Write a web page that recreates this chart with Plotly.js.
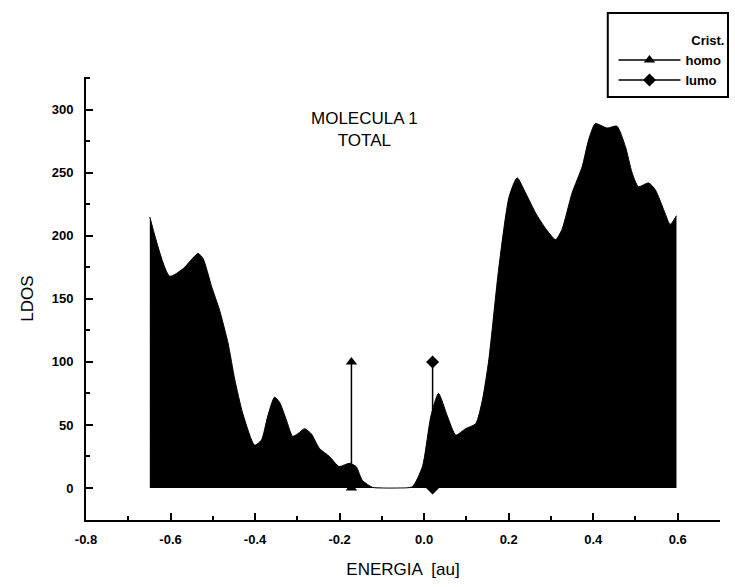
<!DOCTYPE html>
<html>
<head>
<meta charset="utf-8">
<script src="https://cdn.plot.ly/plotly-3.0.1.min.js"></script>
<style>html,body{margin:0;padding:0;background:#fff;}#chart{width:735px;height:587px;}</style>
</head>
<body>
<div id="chart"></div>
<script>
// Total LDOS curve (energy in au, LDOS)
const energia = [-0.649,-0.602,-0.570,-0.535,-0.523,-0.503,-0.484,-0.464,-0.448,-0.429,-0.401,-0.385,-0.370,-0.354,-0.342,-0.326,-0.311,-0.299,-0.283,-0.267,-0.248,-0.224,-0.201,-0.177,-0.161,-0.146,-0.122,-0.10,-0.06,-0.028,-0.004,0.016,0.034,0.055,0.075,0.098,0.122,0.138,0.153,0.177,0.201,0.220,0.240,0.264,0.287,0.311,0.326,0.350,0.374,0.389,0.405,0.433,0.456,0.476,0.492,0.507,0.531,0.547,0.570,0.582,0.597];
const ldos = [215,168,174,186,182,160,141,115,86,59,34,38,57,72,68,54,41,43,47,43,31.5,25,17,19.6,17,6,0.5,0,0,1,17,57,75,57,42,47,51,70,101.6,175.6,231,246,234,218,206,197,205,234,255,276,289,285.5,287,271,250,239,242,236.5,218,209,216];
// HOMO / LUMO markers
const homoX = [-0.172,-0.172];
const homoY = [0,100];
const lumoX = [0.02,0.02];
const lumoY = [0,100];
const legendTitle = "Crist.";
const xTicks = [-0.8,-0.6,-0.4,-0.2,0.0,0.2,0.4,0.6];
const xTickText = ["-0.8","-0.6","-0.4","-0.2","0.0","0.2","0.4","0.6"];
const yTicks = [0,50,100,150,200,250,300];

const FONT = "Liberation Sans, Arial, sans-serif";

const traces = [
  {x: energia, y: ldos, type:'scatter', mode:'lines', fill:'tozeroy',
   fillcolor:'#000', line:{color:'#000', width:1, shape:'spline', smoothing:0.6}, showlegend:false, hoverinfo:'skip'},
  {x: homoX, y: homoY, type:'scatter', mode:'lines+markers', name:'homo',
   line:{color:'#000', width:1.5}, marker:{symbol:'triangle-up', size:10, color:'#000'}},
  {x: lumoX, y: lumoY, type:'scatter', mode:'lines+markers', name:'lumo',
   line:{color:'#000', width:1.5}, marker:{symbol:'diamond', size:10, color:'#000'}}
];

const layout = {
  width:735, height:587,
  margin:{l:86, r:15, t:77, b:67, autoexpand:false},
  paper_bgcolor:'#fff', plot_bgcolor:'#fff',
  font:{family:FONT, color:'#000'},
  showlegend:true,
  legend:{x:0.832, y:1.11, xanchor:'left', yanchor:'top',
    borderwidth:0, bgcolor:'rgba(0,0,0,0)',
    font:{family:FONT, size:13, weight:'bold', color:'#000'},
    title:{text:'<b>'+legendTitle+'</b>', side:'top right', font:{family:FONT, size:13, color:'#000'}},
    tracegroupgap:0, itemwidth:62},
  shapes:[{type:'rect', xref:'paper', yref:'paper', x0:0.823, x1:1.0126, y0:0.955, y1:1.1445,
    line:{color:'#000', width:2}, fillcolor:'rgba(0,0,0,0)'}],
  xaxis:{range:[-0.8,0.70], showgrid:false, zeroline:false,
    showline:true, linecolor:'#000', linewidth:2, mirror:false,
    tickmode:'array', tickvals:xTicks, ticktext:xTickText,
    ticks:'inside', ticklen:7, tickwidth:2, tickcolor:'#000',
    minor:{dtick:0.1, tick0:0, ticks:'inside', ticklen:4, tickwidth:2, tickcolor:'#000', showgrid:false},
    tickfont:{family:FONT, size:13, weight:'bold', color:'#000'},
    ticklabelstandoff:6,
    title:{text:'ENERGIA  [au]', font:{family:FONT, size:17, color:'#000'}, standoff:18}},
  yaxis:{range:[-25.4,326], showgrid:false, zeroline:false,
    showline:true, linecolor:'#000', linewidth:2, mirror:false,
    tickmode:'array', tickvals:yTicks,
    ticks:'inside', ticklen:7, tickwidth:2, tickcolor:'#000',
    minor:{dtick:25, tick0:0, ticks:'inside', ticklen:4, tickwidth:2, tickcolor:'#000', showgrid:false},
    tickfont:{family:FONT, size:13, weight:'bold', color:'#000'},
    ticklabelstandoff:8,
    title:{text:'LDOS', font:{family:FONT, size:17, color:'#000'}, standoff:14}},
  annotations:[{x:-0.142, y:284, xref:'x', yref:'y', text:'MOLECULA 1<br>TOTAL',
    showarrow:false, font:{family:FONT, size:17, color:'#000'}, align:'center'}]
};

Plotly.newPlot('chart', traces, layout, {displayModeBar:false, staticPlot:true});
</script>
</body>
</html>
